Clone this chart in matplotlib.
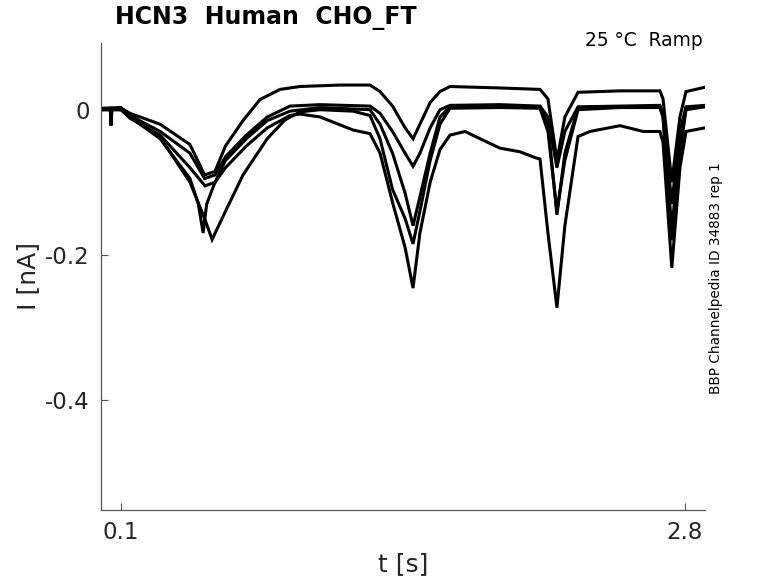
import matplotlib
matplotlib.use("Agg")
import matplotlib.pyplot as plt

# ---- data (time in s, current in nA) ----
t1 = [0.004, 0.10, 0.143, 0.287, 0.43, 0.50, 0.55, 0.60, 0.684, 0.765, 0.861, 0.957, 1.148, 1.292,
      1.34, 1.40, 1.46, 1.498, 1.531, 1.58, 1.627, 1.675, 1.914, 2.106, 2.144, 2.187, 2.225, 2.288,
      2.489, 2.680, 2.695, 2.737, 2.776, 2.805, 2.896]
i1 = [0.0, 0.002, -0.005, -0.02, -0.048, -0.09, -0.085, -0.05, -0.015, 0.014, 0.028, 0.032, 0.034, 0.034,
      0.025, 0.005, -0.025, -0.04, -0.02, 0.01, 0.025, 0.032, 0.030, 0.028, 0.015, -0.07, -0.01, 0.024,
      0.026, 0.026, 0.015, -0.10, -0.01, 0.025, 0.031]

t2 = [0.004, 0.10, 0.143, 0.287, 0.43, 0.50, 0.55, 0.60, 0.70, 0.80, 0.909, 1.053, 1.292, 1.34, 1.40,
      1.46, 1.498, 1.531, 1.58, 1.627, 1.675, 1.914, 2.106, 2.144, 2.187, 2.225, 2.288, 2.489, 2.680,
      2.695, 2.737, 2.776, 2.805, 2.896]
i2 = [0.002, 0.003, -0.008, -0.03, -0.06, -0.095, -0.09, -0.065, -0.035, -0.01, 0.005, 0.007, 0.005,
      -0.005, -0.03, -0.06, -0.078, -0.06, -0.025, 0.0, 0.006, 0.007, 0.005, -0.01, -0.08, -0.03, 0.004,
      0.005, 0.006, -0.005, -0.13, -0.03, 0.004, 0.006]

t3 = [0.004, 0.10, 0.143, 0.287, 0.43, 0.502, 0.55, 0.60, 0.70, 0.80, 0.909, 1.053, 1.292, 1.34, 1.40,
      1.46, 1.498, 1.531, 1.58, 1.627, 1.675, 1.914, 2.106, 2.144, 2.187, 2.225, 2.288, 2.489, 2.680,
      2.695, 2.737, 2.776, 2.805, 2.896]
i3 = [0.0, 0.0, -0.012, -0.035, -0.08, -0.105, -0.10, -0.07, -0.04, -0.015, -0.002, 0.003, 0.0, -0.02,
      -0.06, -0.115, -0.16, -0.12, -0.06, -0.01, 0.004, 0.004, 0.003, -0.02, -0.145, -0.06, 0.003, 0.004,
      0.004, -0.01, -0.165, -0.05, 0.003, 0.005]

t4 = [0.004, 0.048, 0.052, 0.056, 0.10, 0.143, 0.287, 0.43, 0.47, 0.493, 0.51, 0.55, 0.60, 0.70, 0.80,
      0.909, 0.957, 1.053, 1.211, 1.292, 1.34, 1.402, 1.46, 1.498, 1.531, 1.58, 1.627, 1.675, 1.747,
      1.819, 1.914, 2.010, 2.082, 2.106, 2.144, 2.187, 2.225, 2.288, 2.345, 2.489, 2.60, 2.680, 2.695,
      2.737, 2.776, 2.805, 2.896]
i4 = [0.0, 0.002, -0.022, 0.0, 0.002, -0.01, -0.04, -0.095, -0.13, -0.17, -0.13, -0.10, -0.08, -0.05,
      -0.025, -0.008, -0.006, -0.01, -0.028, -0.033, -0.06, -0.13, -0.19, -0.246, -0.17, -0.10, -0.055,
      -0.035, -0.03, -0.04, -0.053, -0.058, -0.066, -0.068, -0.17, -0.273, -0.16, -0.037, -0.03, -0.022,
      -0.03, -0.03, -0.045, -0.218, -0.08, -0.03, -0.025]

t5 = [0.004, 0.10, 0.143, 0.287, 0.43, 0.50, 0.536, 0.60, 0.684, 0.80, 0.885, 0.957, 1.053, 1.211,
      1.292, 1.34, 1.40, 1.46, 1.498, 1.531, 1.58, 1.627, 1.675, 1.914, 2.106, 2.144, 2.187, 2.225,
      2.288, 2.489, 2.680, 2.695, 2.737, 2.776, 2.805, 2.896]
i5 = [0.0, 0.0, -0.01, -0.038, -0.10, -0.15, -0.179, -0.14, -0.09, -0.04, -0.014, -0.003, 0.0, -0.002,
      -0.008, -0.04, -0.11, -0.15, -0.185, -0.14, -0.07, -0.02, 0.002, 0.003, 0.002, -0.03, -0.14,
      -0.07, 0.0, 0.003, 0.003, -0.01, -0.18, -0.06, 0.0, 0.004]

traces = [(t1, i1), (t2, i2), (t3, i3), (t4, i4), (t5, i5)]

xticks = [0.1, 2.8]
xticklabels = ["0.1", "2.8"]
yticks = [-0.4, -0.2, 0.0]
yticklabels = ["-0.4", "-0.2", "0"]

title = "HCN3  Human  CHO_FT"
subtitle = "25 °C  Ramp"
side_note = "BBP Channelpedia ID 34883 rep 1"

# ---- figure ----
plt.rcParams["font.family"] = ["DejaVu Sans"]
fig = plt.figure(figsize=(7.78, 5.83), dpi=100)
ax = fig.add_axes([101 / 778, 73 / 583, 604 / 778, 467 / 583])

for t, i in traces:
    ax.plot(t, i, color="black", lw=2.2, solid_joinstyle="miter")

ax.set_xlim(0.004, 2.896)
ax.set_ylim(-0.552, 0.092)
ax.set_xticks(xticks)
ax.set_xticklabels(xticklabels)
ax.set_yticks(yticks)
ax.set_yticklabels(yticklabels)

axc = "#262626"
for s in ["top", "right"]:
    ax.spines[s].set_visible(False)
for s in ["left", "bottom"]:
    ax.spines[s].set_color("#555555")
    ax.spines[s].set_linewidth(0.9)
ax.tick_params(direction="in", length=5, width=0.8, colors="#555555", labelcolor=axc,
               labelsize=16.5, pad=8)

ax.set_xlabel("t [s]", fontsize=18, color=axc, labelpad=6)
ax.set_ylabel("I [nA]", fontsize=18, color=axc, labelpad=4)

fig.text(115 / 778, 1 - 18 / 583, title, fontsize=17, fontweight="bold",
         ha="left", va="center", color="black")
fig.text(703 / 778, 1 - 40 / 583, subtitle, fontsize=13.4, ha="right", va="center", color="black")
fig.text(716 / 778, 1 - 278 / 583, side_note, fontsize=9.8, rotation=90,
         ha="center", va="center", color="black")

fig.savefig("out.png", dpi=100)
